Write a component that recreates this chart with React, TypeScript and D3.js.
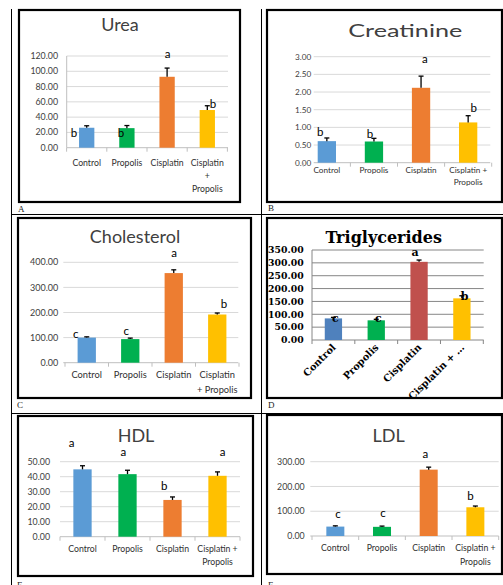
import React from "react";
import * as d3 from "d3";

const categories = ["Control", "Propolis", "Cisplatin", "Cisplatin + Propolis"];

const ureaMean = [26.1, 25.6, 92.8, 49.3];
const ureaErr = [2.6, 3.4, 11.4, 5.6];
const ureaLetters = ["b", "b", "a", "b"];
const ureaTicks = [0, 20, 40, 60, 80, 100, 120];

const creatMean = [0.61, 0.6, 2.12, 1.14];
const creatErr = [0.09, 0.09, 0.33, 0.19];
const creatLetters = ["b", "b", "a", "b"];
const creatTicks = [0, 0.5, 1, 1.5, 2, 2.5, 3];

const cholMean = [100, 94, 357, 192];
const cholErr = [3, 4, 13, 6];
const cholLetters = ["c", "c", "a", "b"];
const cholTicks = [0, 100, 200, 300, 400];

const trigMean = [84, 76.5, 304, 162];
const trigErr = [4, 4, 7, 10];
const trigLetters = ["c", "c", "a", "b"];
const trigTicks = [0, 50, 100, 150, 200, 250, 300, 350];

const hdlMean = [44.9, 41.7, 24.5, 40.6];
const hdlErr = [2.4, 2.6, 2.0, 2.6];
const hdlLetters = ["a", "a", "b", "a"];
const hdlTicks = [0, 10, 20, 30, 40, 50];

const ldlMean = [38, 37, 268, 116];
const ldlErr = [3, 3, 10, 5];
const ldlLetters = ["c", "c", "a", "b"];
const ldlTicks = [0, 100, 200, 300];

const labelsA = [["Control"], ["Propolis"], ["Cisplatin"], ["Cisplatin", "+", "Propolis"]];
const labelsB = [["Control"], ["Propolis"], ["Cisplatin"], ["Cisplatin +", "Propolis"]];
const labelsC = [["Control"], ["Propolis"], ["Cisplatin"], ["Cisplatin", "+ Propolis"]];
const labelsD = [["Control"], ["Propolis"], ["Cisplatin"], ["Cisplatin + …"]];

const officeColors = ["#5B9BD5", "#00B050", "#ED7D31", "#FFC000"];
const trigColors = ["#4F81BD", "#00B050", "#C0504D", "#FFC000"];

const SANS = "Lato, 'Open Sans', sans-serif";
const SERIF = "'DejaVu Serif', 'Liberation Serif', serif";

type Cfg = {
  title: string;
  mean: number[];
  err: number[];
  letters: string[];
  ticks: number[];
  labels: string[][];
  colors: string[];
  frame: [number, number, number, number];
  titlePos: [number, number];
  titleSize: number;
  titleFont: string;
  titleWeight: string;
  titleLength?: number;
  yRange: [number, number];
  xRange: [number, number];
  grid: [number, number];
  tickX: number;
  labelY: number;
  lineH: number;
  barW: number;
  letterOff: [number, number][];
  font: string;
  weight: string;
  tickSize: number;
  labelSize: number;
  letterSize: number;
  gridColor: string;
  axisColor: string;
  tickColor: string;
  labelColor: string;
  rotate?: boolean;
  yAxisLine?: boolean;
  panel: string;
  panelPos: [number, number];
};

const panels: Cfg[] = [
  {
    title: "Urea", mean: ureaMean, err: ureaErr, letters: ureaLetters, ticks: ureaTicks, labels: labelsA,
    colors: officeColors, frame: [19, 10, 221, 192], titlePos: [120, 30.7], titleSize: 18,
    titleFont: SANS, titleWeight: "normal",
    yRange: [147.7, 56], xRange: [66.6, 227.4], grid: [66.7, 228], tickX: 58, labelY: 165.7, lineH: 13.3,
    barW: 15.3, letterOff: [[-12.7, 11.3], [-6, 11.5], [0.4, -9.8], [5.7, 2.4]],
    font: SANS, weight: "normal", tickSize: 8.8, labelSize: 8.7, letterSize: 11.5,
    gridColor: "#D9D9D9", axisColor: "#BFBFBF", tickColor: "#404040", labelColor: "#303030",
    yAxisLine: true, panel: "A", panelPos: [18, 212],
  },
  {
    title: "Creatinine", mean: creatMean, err: creatErr, letters: creatLetters, ticks: creatTicks, labels: labelsB,
    colors: officeColors, frame: [267, 10, 235, 192], titlePos: [405.3, 37.3], titleSize: 17,
    titleFont: SANS, titleWeight: "normal", titleLength: 114,
    yRange: [162.7, 56.7], xRange: [303.3, 491.7], grid: [313.7, 490.3], tickX: 311.3, labelY: 173.3, lineH: 12,
    barW: 18.3, letterOff: [[-6.7, -2], [-4, -0.4], [3.7, -12.8], [5.7, -4]],
    font: SANS, weight: "normal", tickSize: 8.2, labelSize: 8.2, letterSize: 11.5,
    gridColor: "#D9D9D9", axisColor: "#BFBFBF", tickColor: "#404040", labelColor: "#303030",
    panel: "B", panelPos: [268, 211],
  },
  {
    title: "Cholesterol", mean: cholMean, err: cholErr, letters: cholLetters, ticks: cholTicks, labels: labelsC,
    colors: officeColors, frame: [18, 218, 233, 180], titlePos: [135, 242.7], titleSize: 18,
    titleFont: SANS, titleWeight: "normal",
    yRange: [362.7, 262.3], xRange: [65, 239], grid: [63.3, 238.3], tickX: 58.3, labelY: 377.7, lineH: 15.7,
    barW: 18.3, letterOff: [[-11, 1.2], [-4, -3], [0.3, -12.5], [6.8, -5.4]],
    font: SANS, weight: "normal", tickSize: 9, labelSize: 9.3, letterSize: 11.5,
    gridColor: "#D9D9D9", axisColor: "#BFBFBF", tickColor: "#404040", labelColor: "#303030",
    panel: "C", panelPos: [17, 408],
  },
  {
    title: "Triglycerides", mean: trigMean, err: trigErr, letters: trigLetters, ticks: trigTicks, labels: labelsD,
    colors: trigColors, frame: [267, 218, 235, 180], titlePos: [383.7, 242.7], titleSize: 16,
    titleFont: SERIF, titleWeight: "bold",
    yRange: [340, 250], xRange: [312, 483.3], grid: [312, 483.7], tickX: 303.7, labelY: 348, lineH: 12,
    barW: 17.3, letterOff: [[2, 4.3], [2, 2.3], [-4, -4], [2.7, 4]],
    font: SERIF, weight: "bold", tickSize: 9.3, labelSize: 9.8, letterSize: 11,
    gridColor: "#868686", axisColor: "#868686", tickColor: "#000000", labelColor: "#000000",
    rotate: true, yAxisLine: true, panel: "D", panelPos: [268, 408],
  },
  {
    title: "HDL", mean: hdlMean, err: hdlErr, letters: hdlLetters, ticks: hdlTicks, labels: labelsB,
    colors: officeColors, frame: [18, 416, 235, 160], titlePos: [136, 442.3], titleSize: 18,
    titleFont: SANS, titleWeight: "normal",
    yRange: [536.7, 461.7], xRange: [60, 240], grid: [60, 240], tickX: 50, labelY: 551.7, lineH: 13.3,
    barW: 18.3, letterOff: [[-10.8, -19], [-4.2, -14.5], [-8.2, -6.6], [5.2, -15.7]],
    font: SANS, weight: "normal", tickSize: 8.8, labelSize: 8.7, letterSize: 11.5,
    gridColor: "#D9D9D9", axisColor: "#BFBFBF", tickColor: "#404040", labelColor: "#303030",
    panel: "E", panelPos: [17, 588],
  },
  {
    title: "LDL", mean: ldlMean, err: ldlErr, letters: ldlLetters, ticks: ldlTicks, labels: labelsB,
    colors: officeColors, frame: [267, 415, 235, 159], titlePos: [388.7, 442.3], titleSize: 18,
    titleFont: SANS, titleWeight: "normal",
    yRange: [536, 461.7], xRange: [312, 498.7], grid: [310.3, 498.7], tickX: 304.7, labelY: 551, lineH: 14,
    barW: 18, letterOff: [[2.7, -7.6], [1, -8.6], [-3.4, -9], [-5, -5.8]],
    font: SANS, weight: "normal", tickSize: 8.8, labelSize: 8.7, letterSize: 11.5,
    gridColor: "#D9D9D9", axisColor: "#BFBFBF", tickColor: "#404040", labelColor: "#303030",
    panel: "F", panelPos: [268, 588],
  },
];

function Panel({ c }: { c: Cfg }) {
  const yMax = c.ticks[c.ticks.length - 1];
  const y = d3.scaleLinear().domain([0, yMax]).range(c.yRange);
  const x = d3.scaleBand<string>().domain(categories).range(c.xRange);
  const bw = x.bandwidth();
  const fmt = d3.format(".2f");
  const y0 = y(0);
  const boundaries = [...categories.map((k) => x(k) as number), c.xRange[1]];
  return (
    <g>
      <rect x={c.frame[0]} y={c.frame[1]} width={c.frame[2]} height={c.frame[3]} fill="#fff" stroke="#000" strokeWidth={2.2} />
      <text
        x={c.titlePos[0]} y={c.titlePos[1]} textAnchor="middle" fontFamily={c.titleFont}
        fontWeight={c.titleWeight} fontSize={c.titleSize} fill={c.rotate ? "#000" : "#404040"}
        textLength={c.titleLength} lengthAdjust={c.titleLength ? "spacingAndGlyphs" : undefined}
      >
        {c.title}
      </text>
      {c.ticks.map((t) => (
        <g key={t}>
          {t > 0 && <line x1={c.grid[0]} x2={c.grid[1]} y1={y(t)} y2={y(t)} stroke={c.gridColor} strokeWidth={1} />}
          <text x={c.tickX} y={y(t)} dy="0.35em" textAnchor="end" fontFamily={c.font} fontWeight={c.weight}
            fontSize={c.tickSize} fill={c.tickColor}>
            {fmt(t)}
          </text>
        </g>
      ))}
      {c.yAxisLine && <line x1={c.grid[0]} x2={c.grid[0]} y1={y(yMax)} y2={y0} stroke={c.axisColor} strokeWidth={1} />}
      <line x1={c.grid[0]} x2={c.grid[1]} y1={y0} y2={y0} stroke={c.axisColor} strokeWidth={1} />
      {boundaries.map((b, i) => (
        <line key={i} x1={b} x2={b} y1={y0} y2={y0 + 4} stroke={c.axisColor} strokeWidth={1} />
      ))}
      {categories.map((k, i) => {
        const cx = (x(k) as number) + bw / 2;
        const top = y(c.mean[i]);
        const et = y(c.mean[i] + c.err[i]);
        return (
          <g key={k}>
            <rect x={cx - c.barW / 2} y={top} width={c.barW} height={y0 - top} fill={c.colors[i]} />
            <line x1={cx} x2={cx} y1={top} y2={et} stroke="#000" strokeWidth={1.3} />
            <line x1={cx - 2.5} x2={cx + 2.5} y1={et} y2={et} stroke="#000" strokeWidth={1.3} />
            <text x={cx + c.letterOff[i][0]} y={et + c.letterOff[i][1]} textAnchor="middle"
              fontFamily={c.font} fontWeight={c.weight} fontSize={c.letterSize} fill="#000">
              {c.letters[i]}
            </text>
            {c.rotate ? (
              <text transform={`translate(${cx + 3},${c.labelY}) rotate(-45)`} textAnchor="end"
                fontFamily={c.font} fontWeight={c.weight} fontSize={c.labelSize} fill={c.labelColor}>
                {c.labels[i][0]}
              </text>
            ) : (
              c.labels[i].map((ln, j) => (
                <text key={j} x={cx} y={c.labelY + j * c.lineH} textAnchor="middle" fontFamily={c.font}
                  fontSize={c.labelSize} fill={c.labelColor}>
                  {ln}
                </text>
              ))
            )}
          </g>
        );
      })}
      <text x={c.panelPos[0]} y={c.panelPos[1]} fontFamily="'Liberation Serif', serif" fontSize={9} fill="#222">
        {c.panel}
      </text>
    </g>
  );
}

export default function App() {
  return (
    <svg width={503} height={585} style={{ position: "absolute", left: 0, top: 0, background: "#fff" }}>
      <rect x={0} y={0} width={503} height={585} fill="#fff" />
      <line x1={11.5} x2={11.5} y1={9} y2={585} stroke="#000" strokeWidth={1} />
      <line x1={261.5} x2={261.5} y1={9} y2={585} stroke="#000" strokeWidth={1} />
      <line x1={11.5} x2={503} y1={214.5} y2={214.5} stroke="#000" strokeWidth={1} />
      <line x1={11.5} x2={503} y1={413.5} y2={413.5} stroke="#000" strokeWidth={1} />
      {panels.map((p) => (
        <Panel key={p.panel} c={p} />
      ))}
    </svg>
  );
}
